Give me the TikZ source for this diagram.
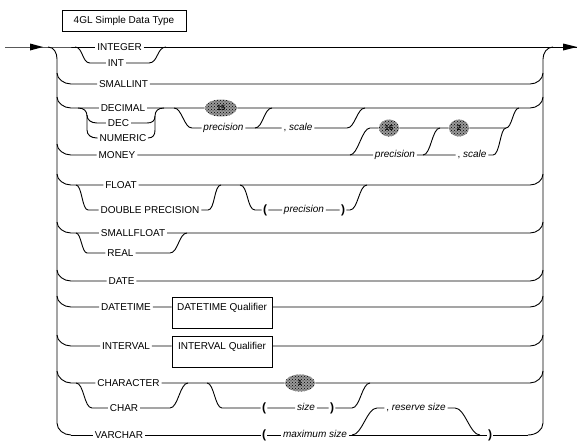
\documentclass[tikz,border=0pt]{standalone}
\usepackage{fontspec}
\setmainfont{Liberation Sans}
\usetikzlibrary{patterns,shapes.geometric}
\begin{document}
\begin{tikzpicture}[x=1pt,y=-1pt,line width=0.9pt,
  lbl/.style={font=\fontsize{10}{12}\selectfont,inner xsep=1.5pt,inner ysep=1pt,text height=7pt,text depth=0pt},
  ilbl/.style={font=\fontsize{10}{12}\selectfont\itshape,inner xsep=1.5pt,inner ysep=1pt,text height=4pt,text depth=0pt},
  paren/.style={font=\fontsize{12}{12}\selectfont\bfseries,inner xsep=1pt,inner ysep=0pt,text height=8.8pt,text depth=2.5pt},
  dflt/.style={ellipse,preaction={fill=black!40},pattern=crosshatch dots,pattern color=black,inner sep=0pt,minimum height=17pt,font=\fontsize{7.5}{8}\selectfont\bfseries},
  qbox/.style={draw,line width=0.7pt,minimum width=100pt,inner xsep=2pt,inner ysep=6.4pt,text height=7.2pt,text depth=11pt,font=\fontsize{10}{12}\selectfont},
  tbox/.style={draw,line width=0.7pt,minimum width=124pt,minimum height=21pt,font=\fontsize{10}{12}\selectfont}]
\useasboundingbox (0,0) rectangle (587,447);

% title
\node[tbox] (title) at (124,20.5) {4GL Simple Data Type};

% main line and rails
\coordinate (start) at (5,47);
\coordinate (finish) at (577,47);
\coordinate (lsplit) at (48,47);
\coordinate (rjoin) at (553,47);
\node[lbl] (integer) at (119.5,47) {INTEGER};
\draw (start) -- (lsplit) -- (integer) -- (finish);
\fill (30,43.5) -- (43,47) -- (30,50.5) -- cycle;
\fill (563,43.5) -- (577,47) -- (563,50.5) -- cycle;
\draw (lsplit) .. controls +(6,0) and +(0,-6) .. (57,59) -- (57,423) .. controls +(0,7) and +(-7,0) .. (71,435);
\draw (rjoin) .. controls +(-6,0) and +(0,-6) .. (543,59) -- (543,423) .. controls +(0,7) and +(8,0) .. (528,435);

% INT
\node[lbl] (int) at (116,63) {INT};
\draw (75,47) .. controls +(8,0) and +(-8,0) .. (90,63) -- (int) -- (149,63) .. controls +(9,0) and +(-9,0) .. (166,47);

% SMALLINT
\node[lbl] (smallint) at (123.5,84) {SMALLINT};
\draw (57,73) .. controls +(0,6) and +(-7,0) .. (71,84) -- (smallint) -- (530,84) .. controls +(7,0) and +(0,6) .. (543,73);

% DECIMAL
\node[lbl] (decimal) at (123,108) {DECIMAL};
\node[dflt,minimum width=32pt] (d15) at (221,108) {15};
\draw (57,97) .. controls +(0,6) and +(-7,0) .. (71,108) -- (decimal) -- (d15) -- (530,108) .. controls +(7,0) and +(0,6) .. (543,97);
\node[lbl] (dec) at (118.5,123) {DEC};
\node[lbl] (numeric) at (123,138) {NUMERIC};
\draw (78,108) .. controls +(6,0) and +(0,-5) .. (87,116) -- (87,130) .. controls +(0,5) and +(-6,0) .. (97,138) -- (numeric) -- (148,138) .. controls +(5,0) and +(0,5) .. (155,130) -- (155,116) .. controls +(0,-5) and +(-6,0) .. (164,108);
\draw (87,115) .. controls +(0,5) and +(-6,0) .. (97,123) -- (dec) -- (147,123) .. controls +(5,0) and +(0,5) .. (155,116);
\node[ilbl] (prec1) at (223.5,128) {precision};
\node[ilbl] (scale1) at (298,128) {\upshape,\ \itshape scale};
\draw (174,108) .. controls +(8,0) and +(-8,0) .. (192,128) -- (prec1) -- (scale1) -- (347,128) .. controls +(8,0) and +(-8,0) .. (365,108);
\draw (255,128) .. controls +(8,0) and +(-8,0) .. (272,108);

% MONEY
\node[lbl] (money) at (117,155) {MONEY};
\node[ilbl] (prec2) at (395,155) {precision};
\node[ilbl] (scale2) at (472,155) {\upshape,\ \itshape scale};
\node[dflt,minimum width=20pt] (d16) at (389,128) {16};
\node[dflt,minimum width=20pt] (d2) at (459,128) {2};
\draw (57,144) .. controls +(0,6) and +(-7,0) .. (71,155) -- (money) -- (prec2) -- (scale2) -- (493,155) .. controls +(7,0) and +(-6,0) .. (506,128);
\draw (350,155) .. controls +(8,0) and +(-8,0) .. (370,128) -- (d16) -- (d2) -- (506,128) .. controls +(6,0) and +(-6,0) .. (519,108);
\draw (423,155) .. controls +(8,0) and +(-8,0) .. (440,128);

% FLOAT
\node[lbl] (float) at (121,185) {FLOAT};
\node[lbl] (double) at (150,210) {DOUBLE PRECISION};
\draw (57,174) .. controls +(0,6) and +(-7,0) .. (71,185) -- (float) -- (530,185) .. controls +(7,0) and +(0,6) .. (543,174);
\draw (76,185) .. controls +(6,0) and +(-6,0) .. (88,210) -- (double) -- (208,210) .. controls +(7,0) and +(-7,0) .. (221,185);
\node[paren] (lp1) at (265,210) {(};
\node[ilbl] (prec3) at (304,210) {precision};
\node[paren] (rp1) at (343,210) {)};
\draw (240,185) .. controls +(8,0) and +(-8,0) .. (255,210) -- (lp1) -- (prec3) -- (rp1) -- (350,210) .. controls +(8,0) and +(-8,0) .. (367,185);

% SMALLFLOAT
\node[lbl] (smallfloat) at (133,233) {SMALLFLOAT};
\node[lbl] (real) at (120.5,253) {REAL};
\draw (57,222) .. controls +(0,6) and +(-7,0) .. (71,233) -- (smallfloat) -- (530,233) .. controls +(7,0) and +(0,6) .. (543,222);
\draw (76,233) .. controls +(5,0) and +(-5,0) .. (87,253) -- (real) -- (170,253) .. controls +(8,0) and +(-8,0) .. (187,233);

% DATE
\node[lbl] (date) at (121.5,281) {DATE};
\draw (57,270) .. controls +(0,6) and +(-7,0) .. (71,281) -- (date) -- (530,281) .. controls +(7,0) and +(0,6) .. (543,270);

% DATETIME
\node[lbl] (datetime) at (126,307) {DATETIME};
\node[qbox] (dtq) at (222,312.5) {DATETIME Qualifier};
\draw (57,296) .. controls +(0,6) and +(-7,0) .. (71,307) -- (datetime) -- (dtq.west |- datetime);
\draw (dtq.east |- datetime) -- (530,307) .. controls +(7,0) and +(0,6) .. (543,296);

% INTERVAL
\node[lbl] (interval) at (126,346) {INTERVAL};
\node[qbox] (ivq) at (222,351.5) {INTERVAL Qualifier};
\draw (57,335) .. controls +(0,6) and +(-7,0) .. (71,346) -- (interval) -- (ivq.west |- interval);
\draw (ivq.east |- interval) -- (530,346) .. controls +(7,0) and +(0,6) .. (543,335);

% CHARACTER
\node[lbl] (character) at (128.5,383) {CHARACTER};
\node[dflt,minimum width=30pt] (d1) at (300,383) {1};
\draw (57,371) .. controls +(0,6) and +(-7,0) .. (71,383) -- (character) -- (d1) -- (530,383) .. controls +(7,0) and +(0,6) .. (543,371);
\node[lbl] (char) at (124,408) {CHAR};
\draw (76,383) .. controls +(8,0) and +(-8,0) .. (92,408) -- (char) -- (170,408) .. controls +(8,0) and +(-8,0) .. (188,383);
\node[paren] (lp2) at (264,408) {(};
\node[ilbl] (size) at (306,408) {size};
\node[paren] (rp2) at (332,408) {)};
\draw (207,383) .. controls +(7,0) and +(-7,0) .. (222,408) -- (lp2) -- (size) -- (rp2) -- (352,408) .. controls +(8,0) and +(-8,0) .. (370,383);

% VARCHAR
\node[lbl] (varchar) at (119,435) {VARCHAR};
\node[paren] (lp3) at (264,435) {(};
\node[ilbl] (maxsize) at (315,435) {maximum size};
\node[ilbl] (reserve) at (416,408) {\upshape,\ \itshape reserve size};
\node[paren] (rp3) at (490,435) {)};
\draw (71,435) -- (varchar) -- (lp3) -- (maxsize) -- (rp3) -- (528,435);
\draw (352,435) .. controls +(10,0) and +(-10,0) .. (377,408) -- (reserve) -- (455,408) .. controls +(10,0) and +(-10,0) .. (480,435);
\end{tikzpicture}
\end{document}
